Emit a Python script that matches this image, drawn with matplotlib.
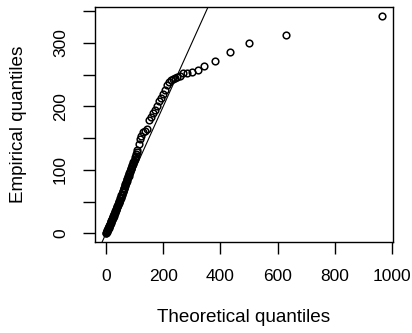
import numpy as np
import matplotlib
matplotlib.use("Agg")
import matplotlib.pyplot as plt

# Q-Q plot: theoretical vs empirical quantiles
theoretical = [0, 1, 2, 3, 4, 5, 6, 7, 8, 9, 10, 11, 12, 13, 14, 15, 16, 17, 18, 19,
               20, 21, 22, 23, 24, 25, 26, 27, 28, 29, 30, 32, 33, 34, 35, 36, 38, 39,
               40, 41, 42, 44, 45, 46, 47, 48, 50, 51, 52, 54, 55, 56, 58, 59, 60, 62,
               63, 64, 66, 67, 68, 70, 71, 72, 74, 75, 76, 78, 79, 80, 82, 83, 84, 86,
               87, 88, 90, 91, 93, 95, 97, 100, 102, 104, 106, 108, 110, 114,
               118, 122, 129, 136, 143, 150, 157, 164, 171, 178, 185, 192, 199, 206,
               213, 220, 227, 234, 241, 248, 259, 269, 283, 301, 322, 343, 381, 434,
               500, 629, 965]
empirical = [0, 1, 2, 3, 4, 5, 6, 7, 8, 9, 10, 11, 12, 13, 14, 15, 16, 18, 19, 20,
             21, 22, 23, 24, 25, 26, 27, 28, 30, 31, 32, 34, 35, 36, 37, 39, 41, 42,
             43, 44, 46, 48, 49, 50, 51, 53, 55, 56, 57, 60, 61, 62, 65, 66, 67, 70,
             71, 72, 75, 76, 77, 80, 81, 82, 85, 86, 88, 90, 91, 93, 95, 97, 98, 101,
             102, 103, 106, 108, 110, 112, 114, 117, 120, 122, 125, 128, 131, 140,
             148, 154, 159, 162, 165, 179, 184, 190, 195, 201, 208, 214, 220, 226,
             233, 238, 241, 244, 245, 247, 248, 252, 253, 255, 258, 264, 272, 286,
             300, 313, 343]

x_ticks = [0, 200, 400, 600, 800, 1000]
y_ticks = [0, 50, 100, 150, 200, 250, 300, 350]
y_ticklabels = ["0", "", "100", "", "200", "", "300", ""]

plt.rcParams["font.family"] = ["Liberation Sans", "DejaVu Sans"]

fig = plt.figure(figsize=(4.12, 3.33), dpi=100)
ax = fig.add_axes([95 / 412, 1 - 242 / 333, 298 / 412, 235 / 333])

ax.plot(theoretical, empirical, linestyle="none", marker="o", markersize=4.8,
        markerfacecolor="none", markeredgecolor="black", markeredgewidth=1.1)
ax.margins(0.04)
ax.axline((0, 0), slope=1, color="black", linewidth=0.8)

ax.set_xticks(x_ticks)
ax.set_yticks(y_ticks)
ax.set_yticklabels(y_ticklabels, rotation=90, va="center")
ax.tick_params(direction="out", length=8.5, width=1.0, labelsize=12.5, pad=11)

for s in ax.spines.values():
    s.set_linewidth(1.0)

ax.set_xlabel("Theoretical quantiles", fontsize=13.6)
ax.set_ylabel("Empirical quantiles", fontsize=13.6)
ax.xaxis.set_label_coords(0.5, -0.285)
ax.yaxis.set_label_coords(-0.228, 0.5)

fig.savefig("out.png", dpi=100)
